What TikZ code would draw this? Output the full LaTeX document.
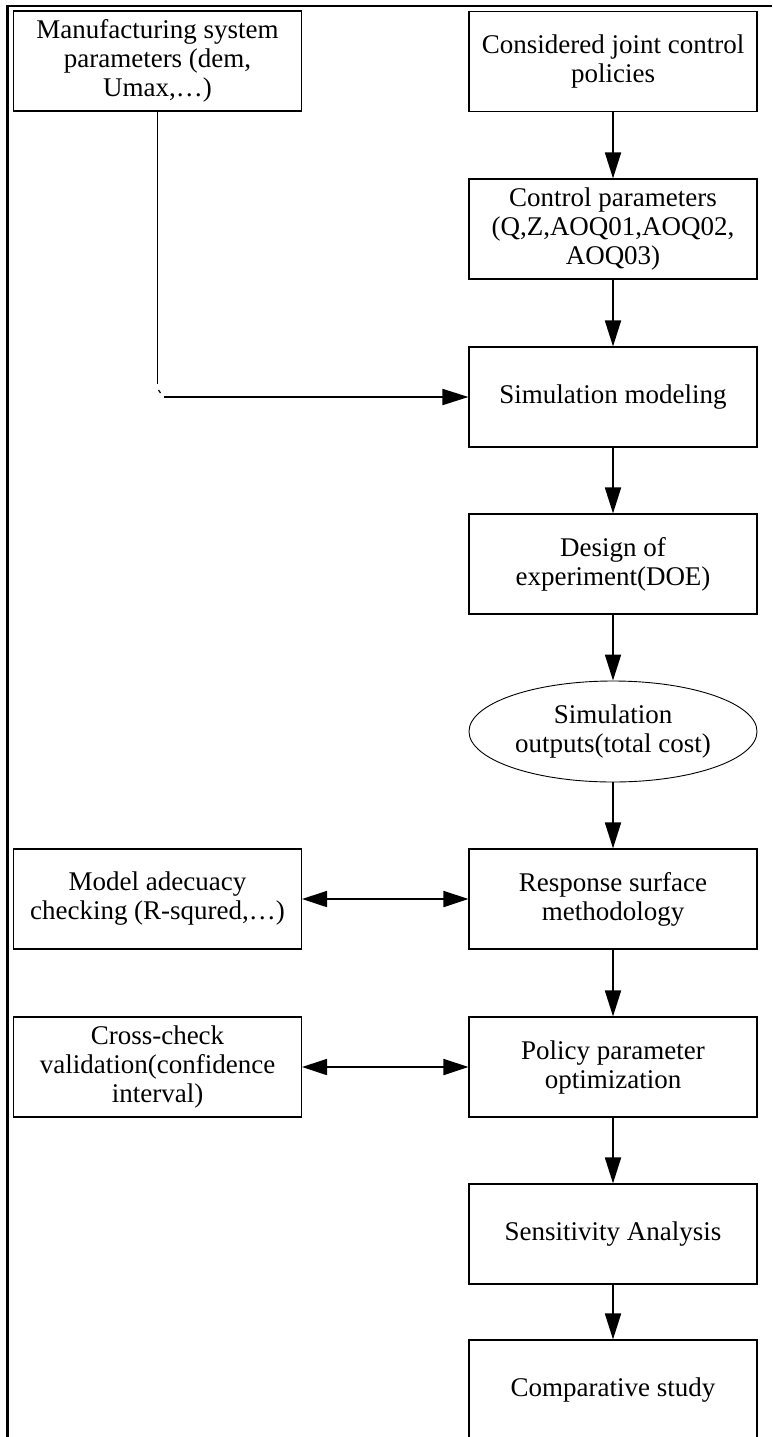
\documentclass[tikz,border=0pt]{standalone}
\usepackage{fontspec}
\setmainfont{Liberation Serif}
\usetikzlibrary{arrows.meta,shapes.geometric}

\tikzset{
  stepbox/.style={draw, line width=1.1pt, minimum width=288pt, minimum height=100pt,
    inner sep=0pt, align=center, font=\fontsize{27}{29}\selectfont},
  outbox/.style={ellipse, draw, line width=0.9pt, minimum width=288pt, minimum height=101pt,
    inner sep=0pt, align=center, font=\fontsize{27}{29}\selectfont},
  flow/.style={line width=1.8pt, -{Triangle[length=26pt,width=16pt]}},
  twoway/.style={line width=1.8pt, {Triangle[length=25pt,width=16pt]}-{Triangle[length=25pt,width=16pt]}},
  frame/.style={line width=2.5pt}
}

\begin{document}
\begin{tikzpicture}[x=1pt,y=-1pt]
  \useasboundingbox (0,0) rectangle (772,1437);

  % frame along the top and left edges
  \coordinate (ftl) at (7.5,6);
  \coordinate (ftr) at (772,6);
  \coordinate (fbl) at (7.5,1437);
  \draw[frame] (ftr) -- (ftl) -- (fbl);

  % main column
  \node[stepbox] (pol)  at (613,61.5)  {Considered joint control\\policies};
  \node[stepbox] (ctrl) at (613,229)   {Control parameters\\(Q,Z,AOQ01,AOQ02,\\AOQ03)};
  \node[stepbox] (sim)  at (613,397)   {Simulation modeling};
  \node[stepbox] (doe)  at (613,564)   {Design of\\experiment(DOE)};
  \node[outbox]  (out)  at (613,731.5) {Simulation\\outputs(total cost)};
  \node[stepbox] (rsm)  at (613,899)   {Response surface\\methodology};
  \node[stepbox] (opt)  at (613,1067)  {Policy parameter\\optimization};
  \node[stepbox] (sens) at (613,1234)  {Sensitivity Analysis};
  \node[stepbox] (comp) at (613,1390)  {Comparative study};

  % side column
  \node[stepbox] (mfg) at (157.5,61)   {Manufacturing system\\parameters (dem,\\Umax,…)};
  \node[stepbox] (mac) at (157.5,899)  {Model adecuacy\\checking (R-squred,…)};
  \node[stepbox] (ccv) at (157.5,1067) {Cross-check\\validation(confidence\\interval)};

  % main flow
  \draw[flow] (pol)  -- (ctrl);
  \draw[flow] (ctrl) -- (sim);
  \draw[flow] (sim)  -- (doe);
  \draw[flow] (doe)  -- (out);
  \draw[flow] (out)  -- (rsm);
  \draw[flow] (rsm)  -- (opt);
  \draw[flow] (opt)  -- (sens);
  \draw[flow] (sens) -- (comp);

  % system parameters feed into the simulation model
  \coordinate (bendA) at (157.5,384);
  \coordinate (tickA) at (158.5,390);
  \coordinate (tickB) at (160.5,393);
  \coordinate (bendB) at (164,397);
  \draw[line width=1.8pt] (mfg.south) -- (bendA);
  \draw[line width=1.2pt] (tickA) -- (tickB);
  \draw[flow] (bendB) -- (sim.west);

  % checks linked both ways
  \draw[twoway] (mac.east) -- (rsm.west);
  \draw[twoway] (ccv.east) -- (opt.west);
\end{tikzpicture}
\end{document}
